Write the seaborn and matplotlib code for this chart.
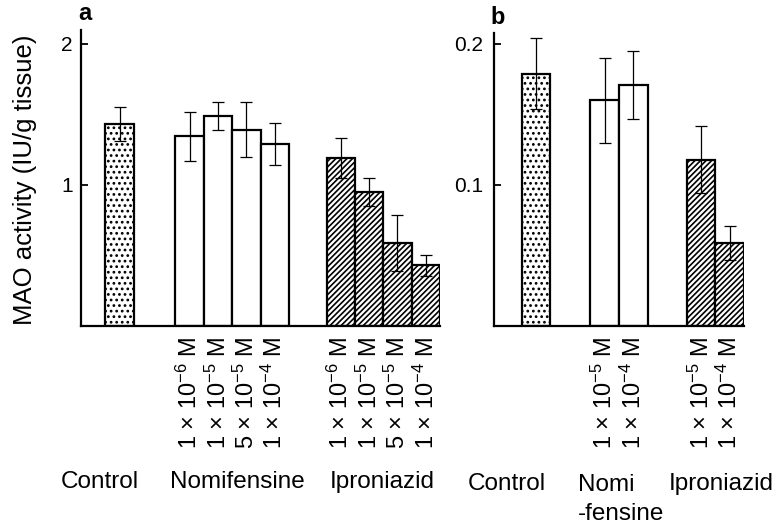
import matplotlib
matplotlib.use("Agg")
import matplotlib.pyplot as plt
import seaborn as sns
import numpy as np
import pandas as pd

# ---------------- data ----------------
a_groups = ["Control", "Nomifensine", "Iproniazid"]
a_group_sizes = [1, 4, 4]
a_values = [1.43, 1.345, 1.49, 1.39, 1.29, 1.19, 0.95, 0.59, 0.43]
a_errors = [0.12, 0.175, 0.10, 0.195, 0.15, 0.14, 0.10, 0.20, 0.075]
a_concs = ["", "1 × 10$^{-6}$ M", "1 × 10$^{-5}$ M", "5 × 10$^{-5}$ M", "1 × 10$^{-4}$ M",
           "1 × 10$^{-6}$ M", "1 × 10$^{-5}$ M", "5 × 10$^{-5}$ M", "1 × 10$^{-4}$ M"]
a_yticks = [1, 2]
a_yticklabels = ["1", "2"]

b_groups = ["Control", "Nomi\n-fensine", "Iproniazid"]
b_group_sizes = [1, 2, 2]
b_values = [0.179, 0.160, 0.171, 0.118, 0.059]
b_errors = [0.025, 0.030, 0.024, 0.024, 0.012]
b_concs = ["", "1 × 10$^{-5}$ M", "1 × 10$^{-4}$ M", "1 × 10$^{-5}$ M", "1 × 10$^{-4}$ M"]
b_yticks = [0.1, 0.2]
b_yticklabels = ["0.1", "0.2"]

ylabel = "MAO activity (IU/g tissue)"

# ---------------- style ----------------
sns.set_theme(style="white")
plt.rcParams["font.family"] = ["Liberation Sans", "DejaVu Sans"]
plt.rcParams["mathtext.default"] = "regular"
plt.rcParams["hatch.color"] = "black"
plt.rcParams["hatch.linewidth"] = 1.2
for k in ("text.color", "axes.labelcolor", "xtick.color", "ytick.color", "axes.edgecolor"):
    plt.rcParams[k] = "black"

W, H = 778, 530
fig = plt.figure(figsize=(W / 100, H / 100), dpi=100)


def px_rect(left, right, top, bottom):
    return [left / W, 1 - bottom / H, (right - left) / W, (bottom - top) / H]


def slot_positions(sizes, gaps):
    pos, x = [], 0.0
    for i, n in enumerate(sizes):
        if i > 0:
            x += gaps[i - 1]
        for _ in range(n):
            pos.append(x)
            x += 1.0
    return pos


def draw_panel(ax, groups, sizes, values, errors, concs, gaps, xlim, ylim,
               yticks, yticklabels, label_specs, ypad):
    pos = slot_positions(sizes, gaps)
    grp = list(np.repeat(groups, sizes))
    df = pd.DataFrame({"pos": pos, "value": values, "group": grp})
    sns.barplot(data=df, x="pos", y="value", native_scale=True, width=1.0,
                color="white", saturation=1, edgecolor="black", linewidth=1.6,
                errorbar=None, ax=ax)
    hatch_for = {groups[0]: "...", groups[1]: "", groups[2]: "//////"}
    for patch, g in zip(ax.patches, grp):
        patch.set_hatch(hatch_for[g])
    ax.errorbar(pos, values, yerr=errors, fmt="none", ecolor="black",
                elinewidth=0.9, capsize=4, capthick=0.9, zorder=5)
    ax.set_xlim(*xlim)
    ax.set_ylim(*ylim)
    ax.set_xticks(pos, concs)
    ax.tick_params(axis="x", length=0, pad=8, labelrotation=90, labelsize=17)
    ax.set_yticks(yticks, yticklabels)
    ax.tick_params(axis="y", direction="in", length=5, width=1.3,
                   labelsize=15, pad=ypad, left=True)
    ax.set_xlabel("")
    ax.set_ylabel("")
    sns.despine(ax=ax)
    for s in ("left", "bottom"):
        ax.spines[s].set_linewidth(1.6)
        ax.spines[s].set_color("black")
    for text, x, ha, va, dy in label_specs:
        ax.annotate(text, xy=(x, 0), xycoords=("data", "axes fraction"),
                    xytext=(0, dy), textcoords="offset pixels",
                    ha=ha, va=va, fontsize=17.5, linespacing=1.4,
                    annotation_clip=False)


ax_a = fig.add_axes(px_rect(81, 440, 30, 326))
draw_panel(ax_a, a_groups, a_group_sizes, a_values, a_errors, a_concs,
           gaps=[1.47, 1.33], xlim=(-1.36, 11.3), ylim=(0, 2.099),
           yticks=a_yticks, yticklabels=a_yticklabels,
           label_specs=[(a_groups[0], -0.71, "center", "center", -156),
                        (a_groups[1], 4.15, "center", "center", -156),
                        (a_groups[2], 9.28, "center", "center", -156)],
           ypad=6)

ax_b = fig.add_axes(px_rect(494, 744, 33, 326))
draw_panel(ax_b, b_groups, b_group_sizes, b_values, b_errors, b_concs,
           gaps=[1.41, 1.38], xlim=(-1.47, 7.29), ylim=(0, 0.2078),
           yticks=b_yticks, yticklabels=b_yticklabels,
           label_specs=[(b_groups[0], -1.02, "center", "center", -158),
                        (b_groups[1], 1.47, "left", "top", -148),
                        (b_groups[2], 6.49, "center", "center", -158)],
           ypad=8)

fig.text(25 / W, 1 - 180 / H, ylabel, rotation=90, ha="center", va="center",
         fontsize=18.5)
fig.text(85 / W, 1 - 14 / H, "a", ha="center", va="center", fontsize=17,
         fontweight="bold")
fig.text(498 / W, 1 - 18 / H, "b", ha="center", va="center", fontsize=17,
         fontweight="bold")

fig.savefig("out.png", dpi=100, facecolor="white")
